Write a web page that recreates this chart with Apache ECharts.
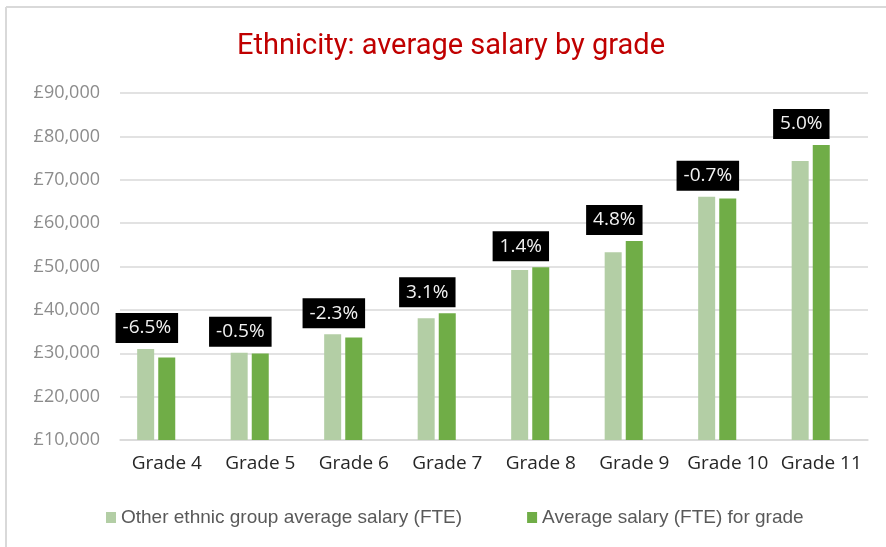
<!DOCTYPE html>
<html>
<head>
<meta charset="utf-8">
<script src="https://cdn.jsdelivr.net/npm/echarts@6/dist/echarts.min.js"></script>
<style>
  html, body { margin: 0; padding: 0; background: #fff; }
  #chart { width: 886px; height: 547px; }
</style>
</head>
<body>
<div id="chart"></div>
<script>
// grades on the x axis
const grades = ['Grade 4', 'Grade 5', 'Grade 6', 'Grade 7', 'Grade 8', 'Grade 9', 'Grade 10', 'Grade 11']
// other ethnic group average salary (FTE)
const otherEthnic = [31000, 30100, 34400, 38050, 49200, 53300, 66100, 74300]
// average salary (FTE) for grade
const gradeAverage = [29000, 29950, 33650, 39250, 49850, 55900, 65650, 78000]
// difference shown in the black boxes
const diffLabels = ['-6.5%', '-0.5%', '-2.3%', '3.1%', '1.4%', '4.8%', '-0.7%', '5.0%']
// y axis ticks
const yTicks = [10000, 20000, 30000, 40000, 50000, 60000, 70000, 80000, 90000]
const yTickLabels = ['£10,000', '£20,000', '£30,000', '£40,000', '£50,000', '£60,000', '£70,000', '£80,000', '£90,000']

const chart = echarts.init(document.getElementById('chart'))

// label anchor sits on the taller of the two bars
const labelAnchor = otherEthnic.map((v, i) => Math.max(v, gradeAverage[i]))

const option = {
  backgroundColor: '#fff',
  animation: false,
  title: {
    text: 'Ethnicity: average salary by grade',
    left: 237,
    top: 32,
    padding: 0,
    textStyle: {
      color: '#c00000',
      fontFamily: 'Roboto',
      fontWeight: 'normal',
      fontSize: 29
    }
  },
  graphic: [
    { type: 'line', shape: { x1: 6, y1: 7, x2: 886, y2: 7 }, style: { stroke: '#d9d9d9', lineWidth: 2 } },
    { type: 'line', shape: { x1: 6, y1: 7, x2: 6, y2: 547 }, style: { stroke: '#d9d9d9', lineWidth: 2 } }
  ],
  legend: {
    left: 101,
    top: 503,
    data: ['Other ethnic group average salary (FTE)', 'Average salary (FTE) for grade'],
    icon: 'rect',
    itemWidth: 10,
    itemHeight: 11,
    itemGap: 65,
    textStyle: {
      color: '#595959',
      fontFamily: 'Liberation Sans',
      fontSize: 19
    }
  },
  grid: {
    left: 120,
    right: 18,
    top: 93,
    bottom: 107
  },
  xAxis: {
    type: 'category',
    data: grades,
    axisLine: { lineStyle: { color: '#d9d9d9', width: 1.5 } },
    axisTick: { show: false },
    axisLabel: {
      interval: 0,
      margin: 14,
      color: '#262626',
      fontFamily: 'Open Sans',
      fontSize: 19
    }
  },
  yAxis: {
    type: 'value',
    min: yTicks[0],
    max: yTicks[yTicks.length - 1],
    interval: 10000,
    axisLine: { show: false },
    axisTick: { show: false },
    splitLine: { lineStyle: { color: '#d9d9d9', width: 1.5 } },
    axisLabel: {
      margin: 20,
      color: '#8c8c8c',
      fontFamily: 'Open Sans',
      fontSize: 18,
      formatter: function (val) {
        return yTickLabels[yTicks.indexOf(val)]
      }
    }
  },
  series: [
    {
      name: 'Other ethnic group average salary (FTE)',
      type: 'bar',
      barWidth: 17,
      barGap: '24%',
      itemStyle: { color: '#b3cea5' },
      data: otherEthnic
    },
    {
      name: 'Average salary (FTE) for grade',
      type: 'bar',
      barWidth: 17,
      barGap: '24%',
      itemStyle: { color: '#70ad47' },
      data: gradeAverage
    },
    {
      name: 'difference',
      type: 'bar',
      barWidth: 17,
      barGap: '24%',
      silent: true,
      itemStyle: { color: 'rgba(0,0,0,0)' },
      label: {
        show: true,
        position: 'top',
        distance: 6,
        offset: [-41, 0],
        backgroundColor: '#000',
        color: '#f2f2f2',
        fontFamily: 'Open Sans',
        fontSize: 19,
        lineHeight: 20,
        padding: [5, 7, 5, 7],
        formatter: function (p) {
          return diffLabels[p.dataIndex]
        }
      },
      data: labelAnchor
    }
  ]
}

chart.setOption(option)
</script>
</body>
</html>
